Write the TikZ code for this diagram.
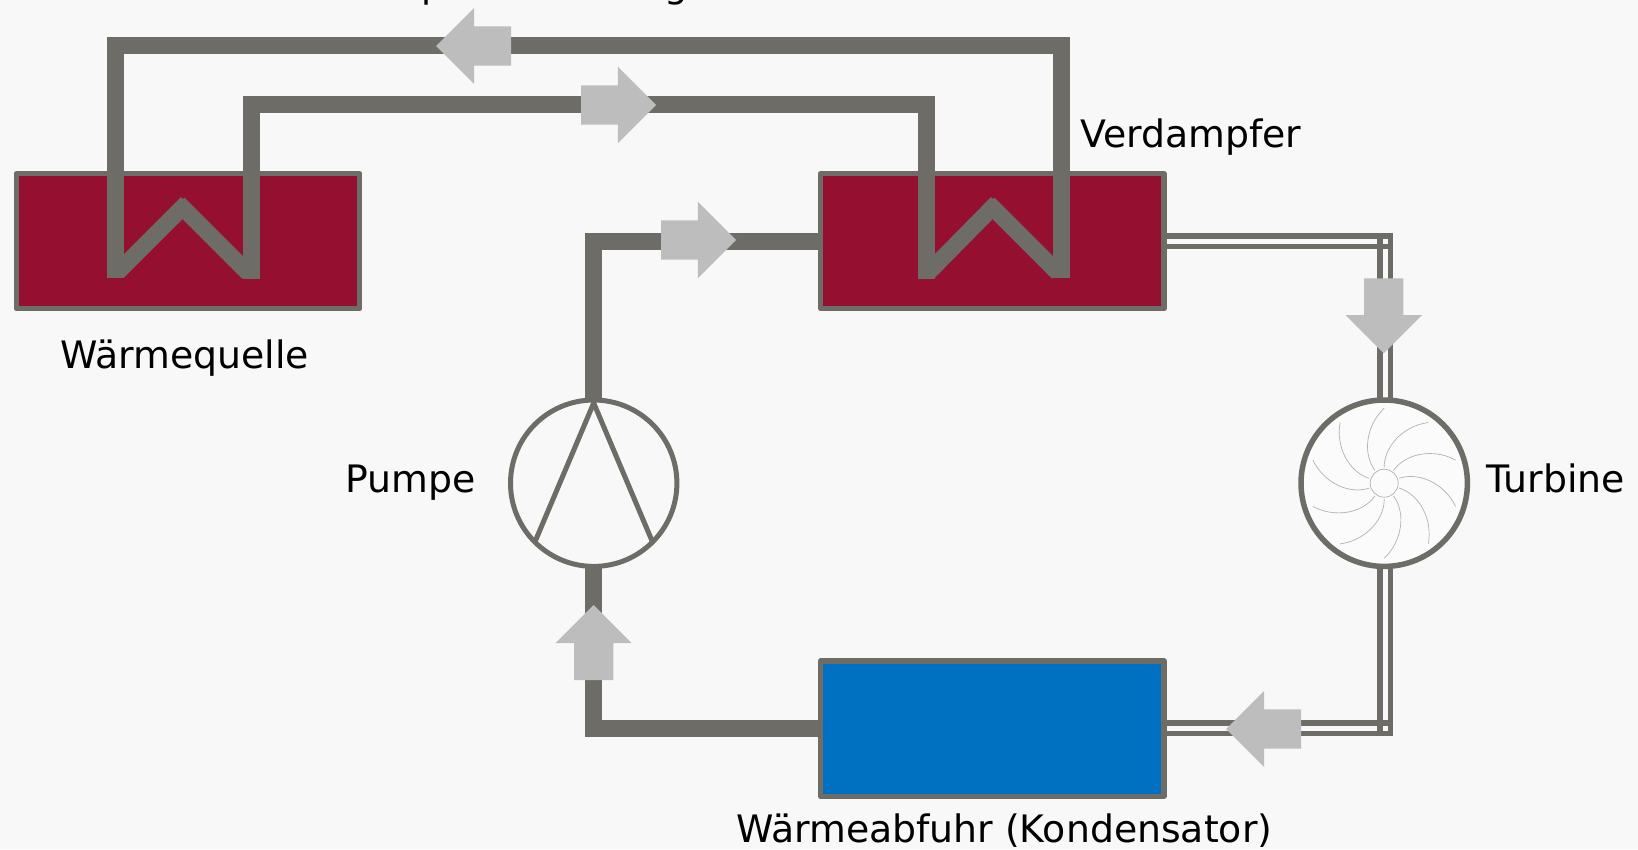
\documentclass[tikz,border=0pt]{standalone}
\usepackage{fontspec}
\setmainfont{DejaVu Sans}
\usetikzlibrary{shapes,arrows}
\definecolor{rohr}{HTML}{6D6C67}
\definecolor{rot}{HTML}{951030}
\definecolor{blau}{HTML}{0070C0}
\definecolor{pfeilgrau}{HTML}{BDBDBD}
\definecolor{grund}{HTML}{F8F8F8}
\tikzset{
  tank/.style={draw=rohr,line width=5.3,line join=round,rectangle,inner sep=0,outer sep=0,minimum width=343.2,minimum height=135.2},
  rohrdick/.style={draw=rohr,line width=16.6,line join=miter},
  rohrduenn/.style={draw=rohr,line width=5.4},
  rund/.style={draw=rohr,circle,inner sep=0,outer sep=0,minimum size=166.4},
  pfeil/.style={fill=pfeilgrau,single arrow,anchor=tip,inner xsep=0,inner ysep=19.5,outer sep=0,minimum height=75,minimum width=76,single arrow head extend=18.5,single arrow head indent=0},
  pfeilv/.style={pfeil,inner xsep=19.5,inner ysep=0},
  schrift/.style={anchor=base west,inner sep=0,font=\fontsize{37.8}{44}\selectfont}
}
\begin{document}
\begin{tikzpicture}[x=1pt,y=-1pt]
            \useasboundingbox (0,0) rectangle (1638,849);
            \fill[grund] (0,0) rectangle (1638,849);
            \node[tank,fill=rot] (quelle) at (188,241.2) {};
            \node[tank,fill=rot] (verdampfer) at (992.4,241.2) {};
            \node[tank,fill=blau] (kondensator) at (992.4,728.6) {};
            \node[rund,line width=5] (pumpe) at (593.7,483.2) {};
            \node[rund,line width=5.5,fill=white!50!grund] (turbine) at (1384.2,483.2) {};
            % Schaufeln
            \foreach \a in {0,36,...,324}
            \draw[black!30,line width=0.7,shift={(turbine.center)},rotate=\a] (-9.3,-12.7) .. controls (-22,-30) and (-18,-58) .. (0,-75);
            \node[circle,draw=black!30,line width=0.7,inner sep=0,minimum size=28] (nabe) at (turbine.center) {};
            \draw[draw=rohr,line width=5] (pumpe.-135) -- (593.7,403) -- (pumpe.-45);
            % Punkte der Rohre
            \coordinate (q1) at (115.5,277.7);
            \coordinate (q2) at (115.5,45.5);
            \coordinate (q3) at (1061.5,45.5);
            \coordinate (q4) at (1061.5,277.7);
            \coordinate (r1) at (251.7,278.5);
            \coordinate (r2) at (251.7,104.7);
            \coordinate (r3) at (926.7,104.7);
            \coordinate (r4) at (926.7,278.5);
            \draw[rohrdick] (q1) -- (q2) -- (q3) -- (q4);
            \draw[rohrdick] (r1) -- (r2) -- (r3) -- (r4);
            % Zickzack
            \draw[draw=rohr,line width=16.6] (118.1,271.8) -- (186.9,202.9);
            \draw[draw=rohr,line width=16.6] (178.6,203.4) -- (248,272.8);
            \draw[draw=rohr,line width=16.6] (929.1,271.8) -- (996.9,202.9);
            \draw[draw=rohr,line width=16.6] (988.6,203.4) -- (1058,272.8);
            \draw[rohrdick] (pumpe.north) |- (verdampfer.west);
            \draw[rohrdick] (pumpe.south) |- (kondensator.west);
            % Doppelrohr
            \coordinate (o1) at (1380,232.5);
            \coordinate (o2) at (1390.5,232.5);
            \coordinate (t1) at (1380,398);
            \coordinate (t2) at (1390.5,398);
            \coordinate (b1) at (1380,568.5);
            \coordinate (b2) at (1390.5,568.5);
            \coordinate (u1) at (1380,735);
            \coordinate (u2) at (1390.5,736.3);
            \draw[rohrduenn] (verdampfer.east |- 0,236) -- (1393.2,236);
            \draw[rohrduenn] (verdampfer.east |- 0,246.7) -- (1388,246.7);
            \draw[rohrduenn] (o1) -- (t1);
            \draw[rohrduenn] (o2) -- (t2);
            \draw[rohrduenn] (b1) -- (u1);
            \draw[rohrduenn] (b2) -- (u2);
            \draw[rohrduenn] (kondensator.east |- 0,722.8) -- (1393.2,722.8);
            \draw[rohrduenn] (kondensator.east |- 0,733.6) -- (1393.2,733.6);
            % Pfeile
            \node[pfeil,shape border rotate=180] (p1) at (436,46) {};
            \node[pfeil] (p2) at (656,105) {};
            \node[pfeil] (p3) at (736,240) {};
            \node[pfeilv,shape border rotate=270] (p4) at (1383.7,353.3) {};
            \node[pfeil,shape border rotate=180] (p5) at (1226,729) {};
            \node[pfeilv,shape border rotate=90] (p6) at (593.7,605) {};
            % Texte
            \node[schrift,font=\fontsize{37}{44}\selectfont] (leitung) at (397.5,-3) {Speicherleitung};
            \node[schrift] (tverdampfer) at (1080,147) {Verdampfer};
            \node[schrift] (tquelle) at (60,368) {Wärmequelle};
            \node[schrift] (tpumpe) at (345,492) {Pumpe};
            \node[schrift] (tturbine) at (1486,492) {Turbine};
            \node[schrift] (tkondensator) at (736,842) {Wärmeabfuhr (Kondensator)};
\end{tikzpicture}
\end{document}
